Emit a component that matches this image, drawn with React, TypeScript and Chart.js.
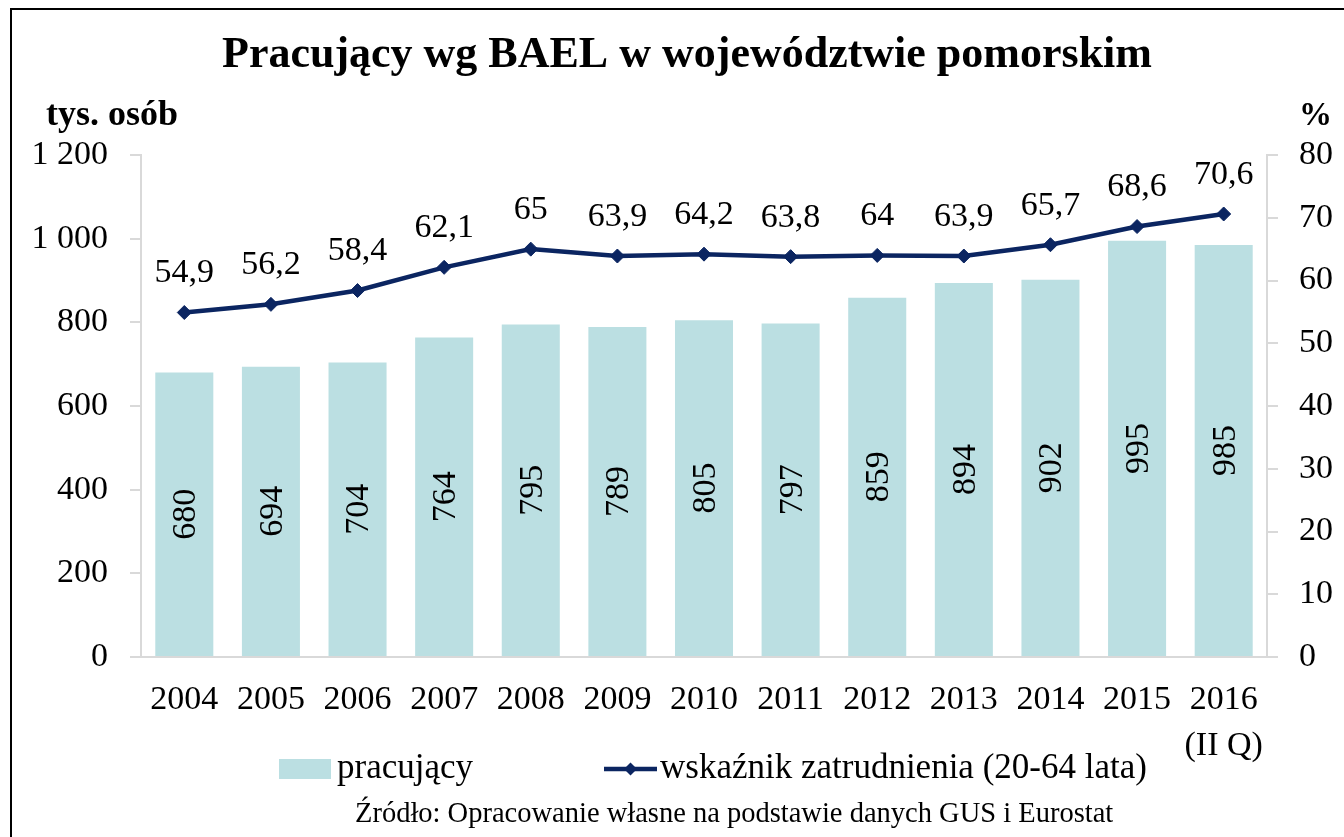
import React, { useEffect, useRef } from 'react';
import { Chart, registerables } from 'chart.js';

Chart.register(...registerables);

const categories: (string | string[])[] = ['2004', '2005', '2006', '2007', '2008', '2009', '2010', '2011', '2012', '2013', '2014', '2015', ['2016', '(II Q)']];
const employed = [680, 694, 704, 764, 795, 789, 805, 797, 859, 894, 902, 995, 985];
const employmentRate = [54.9, 56.2, 58.4, 62.1, 65, 63.9, 64.2, 63.8, 64, 63.9, 65.7, 68.6, 70.6];
const leftAxis = { min: 0, max: 1200, step: 200 };
const rightAxis = { min: 0, max: 80, step: 10 };

const titleText = 'Pracujący wg BAEL w województwie pomorskim';
const leftUnit = 'tys. osób';
const rightUnit = '%';
const barLabel = 'pracujący';
const lineLabel = 'wskaźnik zatrudnienia (20-64 lata)';
const sourceText = 'Źródło: Opracowanie własne na podstawie danych GUS i Eurostat';

const FONT = '"Liberation Serif", "Times New Roman", serif';
const BAR_COLOR = '#BBDFE2';
const LINE_COLOR = '#0B2561';
const AXIS_COLOR = '#D9D9D9';

const fmtThousands = (v: number) => String(v).replace(/\B(?=(\d{3})+(?!\d))/g, ' ');
const fmtDecimal = (v: number) => String(v).replace('.', ',');

const drawDiamond = (ctx: CanvasRenderingContext2D, x: number, y: number, r: number) => {
  ctx.beginPath();
  ctx.moveTo(x, y - r);
  ctx.lineTo(x + r, y);
  ctx.lineTo(x, y + r);
  ctx.lineTo(x - r, y);
  ctx.closePath();
  ctx.fill();
};

const overlayPlugin = {
  id: 'overlay',
  afterDatasetsDraw(chart: any) {
    const ctx: CanvasRenderingContext2D = chart.ctx;
    ctx.save();
    ctx.fillStyle = '#000';
    ctx.font = `34px ${FONT}`;
    ctx.textAlign = 'center';
    ctx.textBaseline = 'middle';
    const barMeta = chart.getDatasetMeta(1);
    barMeta.data.forEach((bar: any, i: number) => {
      const { x, y, base } = bar.getProps(['x', 'y', 'base'], true);
      ctx.save();
      ctx.translate(x, (y + base) / 2);
      ctx.rotate(-Math.PI / 2);
      ctx.fillText(String(employed[i]), 0, 2);
      ctx.restore();
    });
    const lineMeta = chart.getDatasetMeta(0);
    lineMeta.data.forEach((pt: any, i: number) => {
      ctx.fillText(fmtDecimal(employmentRate[i]), pt.x, pt.y - 39);
    });
    ctx.restore();
  },
  afterDraw(chart: any) {
    const ctx: CanvasRenderingContext2D = chart.ctx;
    ctx.save();
    ctx.fillStyle = '#000';
    ctx.textBaseline = 'middle';
    // title
    ctx.font = `bold 44px ${FONT}`;
    ctx.textAlign = 'center';
    ctx.fillText(titleText, 687, 56);
    // units
    ctx.font = `bold 36px ${FONT}`;
    ctx.textAlign = 'left';
    ctx.fillText(leftUnit, 46, 116);
    ctx.font = `bold 33px ${FONT}`;
    ctx.fillText(rightUnit, 1299, 116);
    // legend
    ctx.fillStyle = BAR_COLOR;
    ctx.fillRect(279, 759, 52, 20);
    ctx.fillStyle = '#000';
    ctx.font = `35px ${FONT}`;
    ctx.fillText(barLabel, 337, 769);
    ctx.strokeStyle = LINE_COLOR;
    ctx.lineWidth = 4.5;
    ctx.beginPath();
    ctx.moveTo(604, 769);
    ctx.lineTo(657, 769);
    ctx.stroke();
    ctx.fillStyle = LINE_COLOR;
    drawDiamond(ctx, 630.5, 769, 6.5);
    ctx.fillStyle = '#000';
    ctx.fillText(lineLabel, 660, 769);
    // source
    ctx.font = `28.5px ${FONT}`;
    ctx.fillText(sourceText, 355, 815);
    ctx.restore();
  },
};

export default function App() {
  const canvasRef = useRef<HTMLCanvasElement | null>(null);

  useEffect(() => {
    if (!canvasRef.current) return;
    const tickFont = { family: FONT, size: 34, lineHeight: 1.35 };
    const chart = new Chart(canvasRef.current, {
      type: 'bar',
      data: {
        labels: categories,
        datasets: [
          {
            type: 'line',
            label: lineLabel,
            data: employmentRate,
            yAxisID: 'yR',
            borderColor: LINE_COLOR,
            backgroundColor: LINE_COLOR,
            borderWidth: 4.5,
            pointStyle: 'rectRot',
            pointRadius: 7,
            pointBorderWidth: 1,
            pointBackgroundColor: LINE_COLOR,
            pointBorderColor: LINE_COLOR,
            tension: 0,
          } as any,
          {
            type: 'bar',
            label: barLabel,
            data: employed,
            yAxisID: 'y',
            backgroundColor: BAR_COLOR,
            borderWidth: 0,
            categoryPercentage: 1,
            barPercentage: 0.67,
          },
        ],
      },
      options: {
        responsive: false,
        animation: false,
        layout: { padding: { top: 155, left: 0, right: 0, bottom: 0 } },
        plugins: {
          legend: { display: false },
          title: { display: false },
          tooltip: { enabled: false },
        },
        scales: {
          x: {
            type: 'category',
            grid: { display: true, drawOnChartArea: false, drawTicks: false },
            border: { display: true, color: AXIS_COLOR, width: 2 },
            ticks: { font: tickFont, color: '#000', padding: 20, maxRotation: 0, autoSkip: false },
            afterFit: (s: any) => { s.height = 180; },
          },
          y: {
            position: 'left',
            min: leftAxis.min,
            max: leftAxis.max,
            grid: { display: true, drawOnChartArea: false, drawTicks: true, tickLength: 11, color: AXIS_COLOR, lineWidth: 2 },
            border: { display: true, color: AXIS_COLOR, width: 2 },
            ticks: { stepSize: leftAxis.step, font: { family: FONT, size: 34 }, color: '#000', padding: 22, callback: (v: any) => fmtThousands(Number(v)) },
            afterFit: (s: any) => { s.width = 141; },
          },
          yR: {
            position: 'right',
            min: rightAxis.min,
            max: rightAxis.max,
            grid: { display: true, drawOnChartArea: false, drawTicks: true, tickLength: 11, color: AXIS_COLOR, lineWidth: 2 },
            border: { display: true, color: AXIS_COLOR, width: 2 },
            ticks: { stepSize: rightAxis.step, font: { family: FONT, size: 34 }, color: '#000', padding: 21 },
            afterFit: (s: any) => { s.width = 77; },
          },
        },
      },
      plugins: [overlayPlugin],
    });
    return () => chart.destroy();
  }, []);

  return (
    <div style={{ position: 'fixed', left: 0, top: 0, width: 1344, height: 837, overflow: 'hidden', background: '#fff' }}>
      <div style={{ position: 'absolute', left: 10, top: 8, width: 1400, height: 900, border: '2px solid #000', boxSizing: 'border-box' }} />
      <canvas ref={canvasRef} width={1344} height={837} style={{ position: 'absolute', left: 0, top: 0, display: 'block' }} />
    </div>
  );
}
